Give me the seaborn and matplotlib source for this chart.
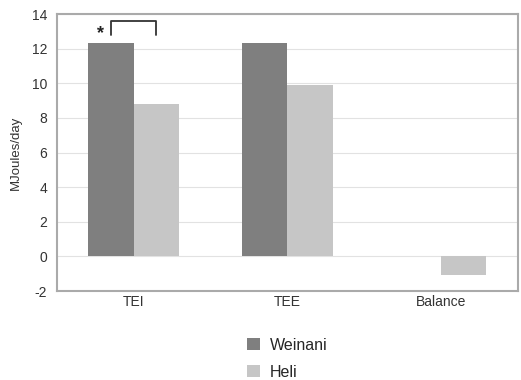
import numpy as np
import pandas as pd
import matplotlib
matplotlib.use("Agg")
import matplotlib.pyplot as plt
import seaborn as sns
from matplotlib.patches import Patch

categories = ["TEI", "TEE", "Balance"]
groups = ["Weinani", "Heli"]
weinani = [12.3, 12.3, 0.0]
heli = [8.8, 9.9, -1.1]
yticks = [-2, 0, 2, 4, 6, 8, 10, 12, 14]
colors = ["#7f7f7f", "#c6c6c6"]

df = pd.DataFrame({
    "Category": categories * 2,
    "Group": [groups[0]] * 3 + [groups[1]] * 3,
    "Value": weinani + heli,
})

sns.set_theme(style="white")
plt.rcParams["font.family"] = ["Liberation Sans", "DejaVu Sans"]

fig = plt.figure(figsize=(5.21, 3.80), dpi=100)
ax = fig.add_axes([0.109, 0.234, 0.885, 0.729])

sns.barplot(ax=ax, data=df, x="Category", y="Value", hue="Group",
            order=categories, hue_order=groups, palette=colors,
            width=0.59, saturation=1, edgecolor="none", legend=False)

ax.set_ylim(-2, 14)
ax.set_xlim(-0.5, 2.5)
ax.set_yticks(yticks)
ax.set_yticklabels([str(t) for t in yticks], fontsize=10, color="#333333")
ax.tick_params(axis="x", labelsize=10, colors="#333333", length=0, pad=3)
ax.tick_params(axis="y", length=0, pad=7)
ax.yaxis.grid(True, color="#e2e2e2", linewidth=0.8)
ax.set_axisbelow(True)
ax.set_xlabel("")
ax.set_ylabel("MJoules/day", fontsize=9.5, color="#333333", labelpad=7)
for s in ax.spines.values():
    s.set_color("#aaaaaa")
    s.set_linewidth(1.5)

# significance bracket on TEI
bars = ax.patches
b1, b2 = bars[0], bars[3]
x1 = b1.get_x() + b1.get_width() / 2
x2 = b2.get_x() + b2.get_width() / 2
ax.plot([x1, x1, x2, x2], [12.8, 13.6, 13.6, 12.8], color="#333333", lw=1.3)
ax.text(x1 - 0.065, 12.9, "*", ha="center", va="center", fontsize=13,
        fontweight="bold", color="#222222")

handles = [Patch(facecolor=c, edgecolor="none") for c in colors]
fig.legend(handles, groups, loc="upper left", bbox_to_anchor=(0.462, 0.128),
           frameon=False, fontsize=11.5, handlelength=0.8, handleheight=0.8,
           handletextpad=0.6, labelspacing=0.75, borderaxespad=0)

fig.savefig("out.png", dpi=100)
